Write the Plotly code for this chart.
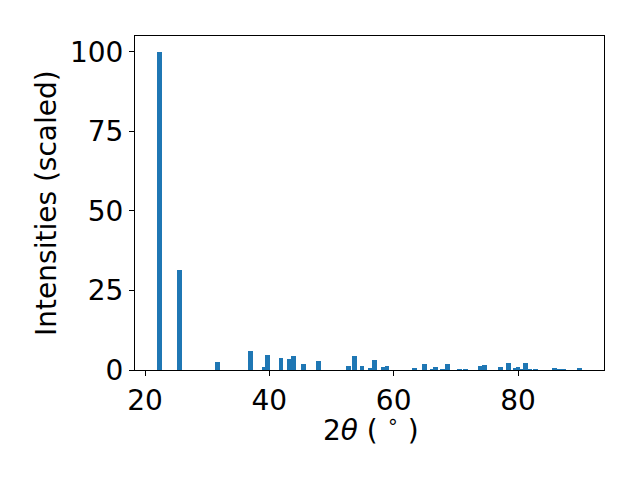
import plotly.graph_objects as go

two_theta = [22.3, 25.5, 31.66, 37.0, 39.2, 39.7, 41.9, 43.2, 43.9, 45.5, 47.9,
             52.7, 53.7, 54.9, 56.2, 56.9, 58.4, 58.9, 63.3, 65.0, 66.2, 66.7,
             67.9, 68.7, 70.6, 71.5, 74.0, 74.6, 77.2, 78.5, 79.6, 80.0, 80.6,
             81.2, 81.8, 82.8, 85.9, 86.6, 87.3, 89.9]
intensity = [100, 31.3, 2.5, 6.0, 0.9, 4.7, 3.8, 3.4, 4.4, 1.9, 2.8,
             1.3, 4.4, 1.3, 0.6, 3.1, 0.9, 1.3, 0.6, 1.9, 0.3, 0.9,
             0.3, 1.9, 0.3, 0.3, 1.3, 1.6, 0.9, 2.2, 0.6, 0.9, 0.3,
             2.2, 0.3, 0.3, 0.6, 0.3, 0.3, 0.6]
x_ticks = [20, 40, 60, 80]
y_ticks = [0, 25, 50, 75, 100]
x_title = "2<i>θ</i> ( <sup>∘</sup> )"
y_title = "Intensities (scaled)"

fig = go.Figure(go.Bar(x=two_theta, y=intensity, width=0.75,
                       marker=dict(color="#1f77b4", line=dict(width=0))))

def font():
    return dict(family="DejaVu Sans", size=28, color="black")

def axis_common():
    return dict(showline=True, linecolor="black", linewidth=1, mirror=True,
                ticks="outside", ticklen=5, tickcolor="black", showgrid=False,
                zeroline=False, tickfont=font(), automargin=False)

# page body adds an 8px offset, so margins are shifted accordingly
fig.update_layout(
    width=640, height=480,
    margin=dict(l=127, r=44, t=28, b=118, autoexpand=False),
    paper_bgcolor="white", plot_bgcolor="white",
    showlegend=False, bargap=0,
    xaxis=dict(range=[18.39, 93.83], tickvals=x_ticks, **axis_common()),
    yaxis=dict(range=[0, 105], tickvals=y_ticks, **axis_common()),
    annotations=[
        dict(text=x_title, xref="paper", yref="paper", x=0.503, y=-0.175,
             xanchor="center", yanchor="middle", showarrow=False, font=font()),
        dict(text=y_title, xref="paper", yref="paper", x=-0.19, y=0.5,
             xanchor="center", yanchor="middle", textangle=-90,
             showarrow=False, font=font()),
    ],
)
fig.write_html("out.html")
